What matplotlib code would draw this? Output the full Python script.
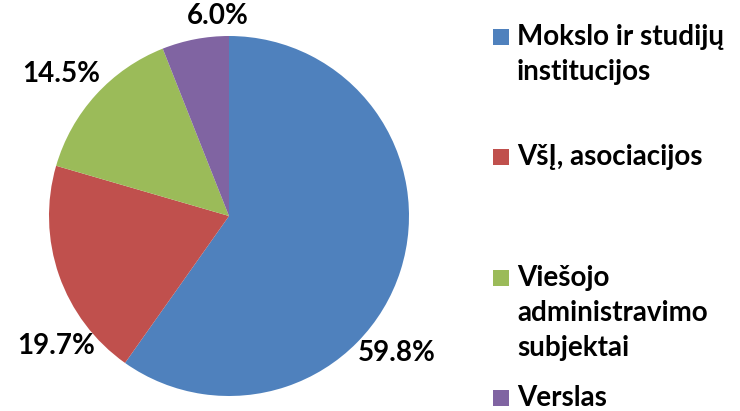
import matplotlib
matplotlib.use("Agg")
import matplotlib.pyplot as plt
from matplotlib.patches import Rectangle

categories = ["Mokslo ir studijų\ninstitucijos", "VšĮ, asociacijos",
              "Viešojo\nadministravimo\nsubjektai", "Verslas"]
shares = [59.8, 19.7, 14.5, 6.0]
colors = ["#4F81BD", "#C0504D", "#9BBB59", "#8064A2"]

# label positions in pie data units (radius = 1)
label_pos = [(0.93, -0.76), (-0.96, -0.72), (-0.93, 0.79), (-0.06, 1.11)]
# legend rows: centre y of the square / first text line, px from top
legend_y = [37, 157, 278, 398]

W, H = 740, 411
plt.rcParams["font.family"] = ["Lato", "DejaVu Sans"]
fig = plt.figure(figsize=(W / 100, H / 100), dpi=100)

cx, cy, r = 229, 216, 180
ax = fig.add_axes([(cx - r) / W, (H - cy - r) / H, 2 * r / W, 2 * r / H])
ax.pie(shares, colors=colors, startangle=90, counterclock=False, radius=1)
ax.set_xlim(-1, 1)
ax.set_ylim(-1, 1)
ax.set_aspect("equal")
ax.axis("off")

for (x, y), v in zip(label_pos, shares):
    ax.text(x, y, f"{v:.1f}%", ha="center", va="center",
            fontsize=20, fontweight="bold", color="black")

sq = 16
for cat, col, y in zip(categories, colors, legend_y):
    fig.patches.append(Rectangle((493 / W, (H - y - sq / 2) / H), sq / W, sq / H,
                                 transform=fig.transFigure, facecolor=col,
                                 edgecolor="none"))
    for i, line in enumerate(cat.split("\n")):
        fig.text(517 / W, (H - y - 35 * i) / H, line, ha="left", va="center",
                 fontsize=20, fontweight="bold")

plt.savefig("out.png", dpi=100)
